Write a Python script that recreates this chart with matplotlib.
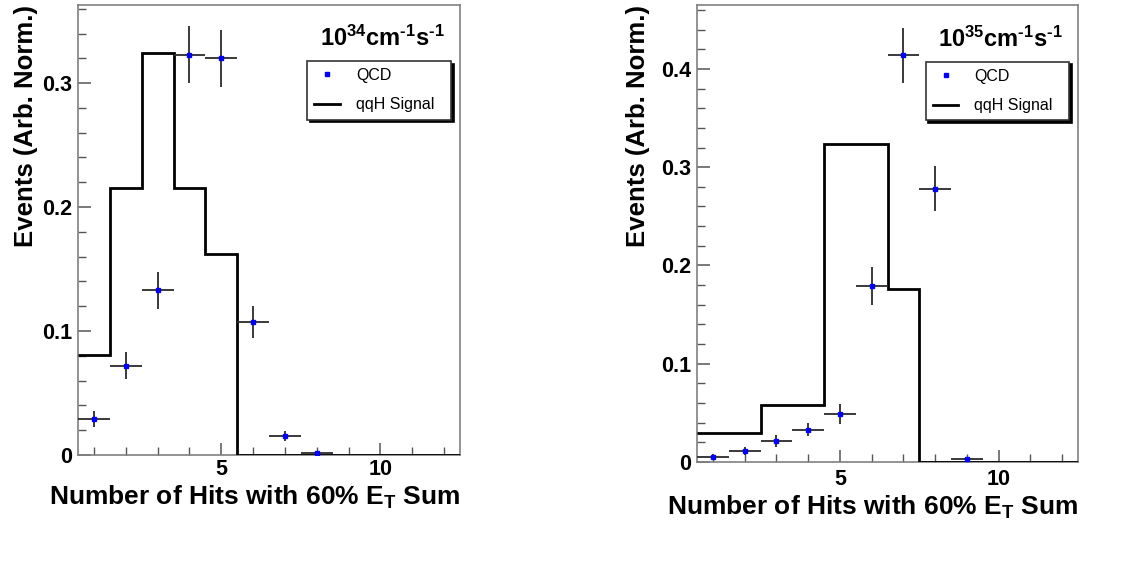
import matplotlib
matplotlib.use('Agg')
import matplotlib.pyplot as plt
from matplotlib.lines import Line2D
from matplotlib.ticker import FixedLocator

plt.rcParams['font.family'] = ['Liberation Sans', 'DejaVu Sans']
plt.rcParams['mathtext.fontset'] = 'custom'
plt.rcParams['mathtext.rm'] = 'Liberation Sans'
plt.rcParams['mathtext.bf'] = 'Liberation Sans:bold'
plt.rcParams['mathtext.it'] = 'Liberation Sans:italic'

# bin edges and centres (number of hits)
edges = [0.5, 1.5, 2.5, 3.5, 4.5, 5.5, 6.5, 7.5, 8.5, 9.5, 10.5, 11.5, 12.5]

# 10^34 panel
sig34 = [0.081, 0.215, 0.324, 0.215, 0.162, 0, 0, 0, 0, 0, 0, 0]
qcd34_x = [1, 2, 3, 4, 5, 6, 7, 8]
qcd34 = [0.029, 0.072, 0.133, 0.323, 0.320, 0.107, 0.015, 0.002]
qcd34_err = [0.0065, 0.011, 0.015, 0.023, 0.023, 0.013, 0.004, 0.001]

# 10^35 panel
sig35 = [0.029, 0.029, 0.058, 0.058, 0.324, 0.324, 0.176, 0, 0, 0, 0, 0]
qcd35_x = [1, 2, 3, 4, 5, 6, 7, 8, 9]
qcd35 = [0.005, 0.011, 0.021, 0.033, 0.049, 0.179, 0.414, 0.278, 0.003]
qcd35_err = [0.003, 0.004, 0.006, 0.007, 0.010, 0.019, 0.028, 0.023, 0.001]

lumi_labels = ['$\\mathbf{10^{34}cm^{\u20101}s^{\u20101}}$',
               '$\\mathbf{10^{35}cm^{\u20101}s^{\u20101}}$']
ytick_34 = [0, 0.1, 0.2, 0.3]
ytick_35 = [0, 0.1, 0.2, 0.3, 0.4]
ylims = [0.363, 0.465]

W, H = 1128, 566
fig = plt.figure(figsize=(W / 100, H / 100), dpi=100)
ax1 = fig.add_axes([78 / W, (H - 455) / H, 382 / W, 450 / H])
ax2 = fig.add_axes([697 / W, (H - 462) / H, 381 / W, 457 / H])

panels = [
    (ax1, sig34, qcd34_x, qcd34, qcd34_err, ytick_34, ylims[0], lumi_labels[0], -0.105, -0.063, 3),
    (ax2, sig35, qcd35_x, qcd35, qcd35_err, ytick_35, ylims[1], lumi_labels[1], -0.123, -0.069, 5),
]

for ax, sig, qx, qy, qe, yt, ytop, lumi, ylab_x, xlab_y, xpad in panels:
    ax.stairs(sig, edges, baseline=None, color='black', lw=2.0, zorder=3)
    ax.errorbar(qx, qy, xerr=0.5, yerr=qe, fmt='none', ecolor='#2a2a2a',
                elinewidth=1.3, capsize=0, zorder=4)
    ax.plot(qx, qy, 's', color='blue', ms=2.5, mec='blue', ls='none', zorder=5)

    ax.set_xlim(0.5, 12.5)
    ax.set_ylim(0, ytop)

    ax.xaxis.set_major_locator(FixedLocator([5, 10]))
    ax.xaxis.set_minor_locator(FixedLocator([1, 2, 3, 4, 6, 7, 8, 9, 11, 12]))
    ax.set_xticklabels(['5', '10'])
    ax.set_yticks(yt)
    ax.set_yticklabels(['0'] + ['%.1f' % v for v in yt[1:]])
    ax.yaxis.set_minor_locator(FixedLocator([i * 0.02 for i in range(int(ytop / 0.02) + 1)]))

    ax.tick_params(axis='both', which='both', direction='in', color='#555555',
                   top=False, right=False)
    ax.tick_params(axis='both', which='major', length=9, width=1.1, labelsize=15.5)
    ax.tick_params(axis='both', which='minor', length=6, width=1.0)
    ax.tick_params(axis='x', which='major', pad=xpad)
    ax.tick_params(axis='y', which='major', pad=4)
    for lab in ax.get_xticklabels() + ax.get_yticklabels():
        lab.set_fontweight('bold')

    for sp in ax.spines.values():
        sp.set_color('#808080')
        sp.set_linewidth(1.2)

    ax.set_ylabel('Events (Arb. Norm.)', fontsize=18.5, fontweight='bold', loc='top')
    ax.yaxis.set_label_coords(ylab_x, 1.0)
    ax.set_xlabel(r'Number of Hits with 60% $\mathbf{E_T}$ Sum', fontsize=19,
                  fontweight='bold', loc='right', va='top')
    ax.xaxis.set_label_coords(1.0, xlab_y)

    ax.text(0.96, 0.925, lumi, transform=ax.transAxes, ha='right', va='center',
            fontsize=17)

    handles = [Line2D([], [], marker='s', ms=2.5, color='blue', ls='none'),
               Line2D([], [], color='black', lw=2.0)]
    leg = ax.legend(handles, ['QCD', 'qqH Signal'], loc='upper left',
                    bbox_to_anchor=(0.60, 0.751, 0.376, 0.125), mode='expand',
                    fontsize=11.5, frameon=True, fancybox=False,
                    shadow={'color': 'black', 'alpha': 1},
                    borderpad=0.45, labelspacing=0.9, handlelength=1.6,
                    handletextpad=1.0, borderaxespad=0)
    leg.get_frame().set_edgecolor('#333333')
    leg.get_frame().set_linewidth(1.2)
    leg.get_frame().set_alpha(1)

fig.savefig('out.png', dpi=100)
